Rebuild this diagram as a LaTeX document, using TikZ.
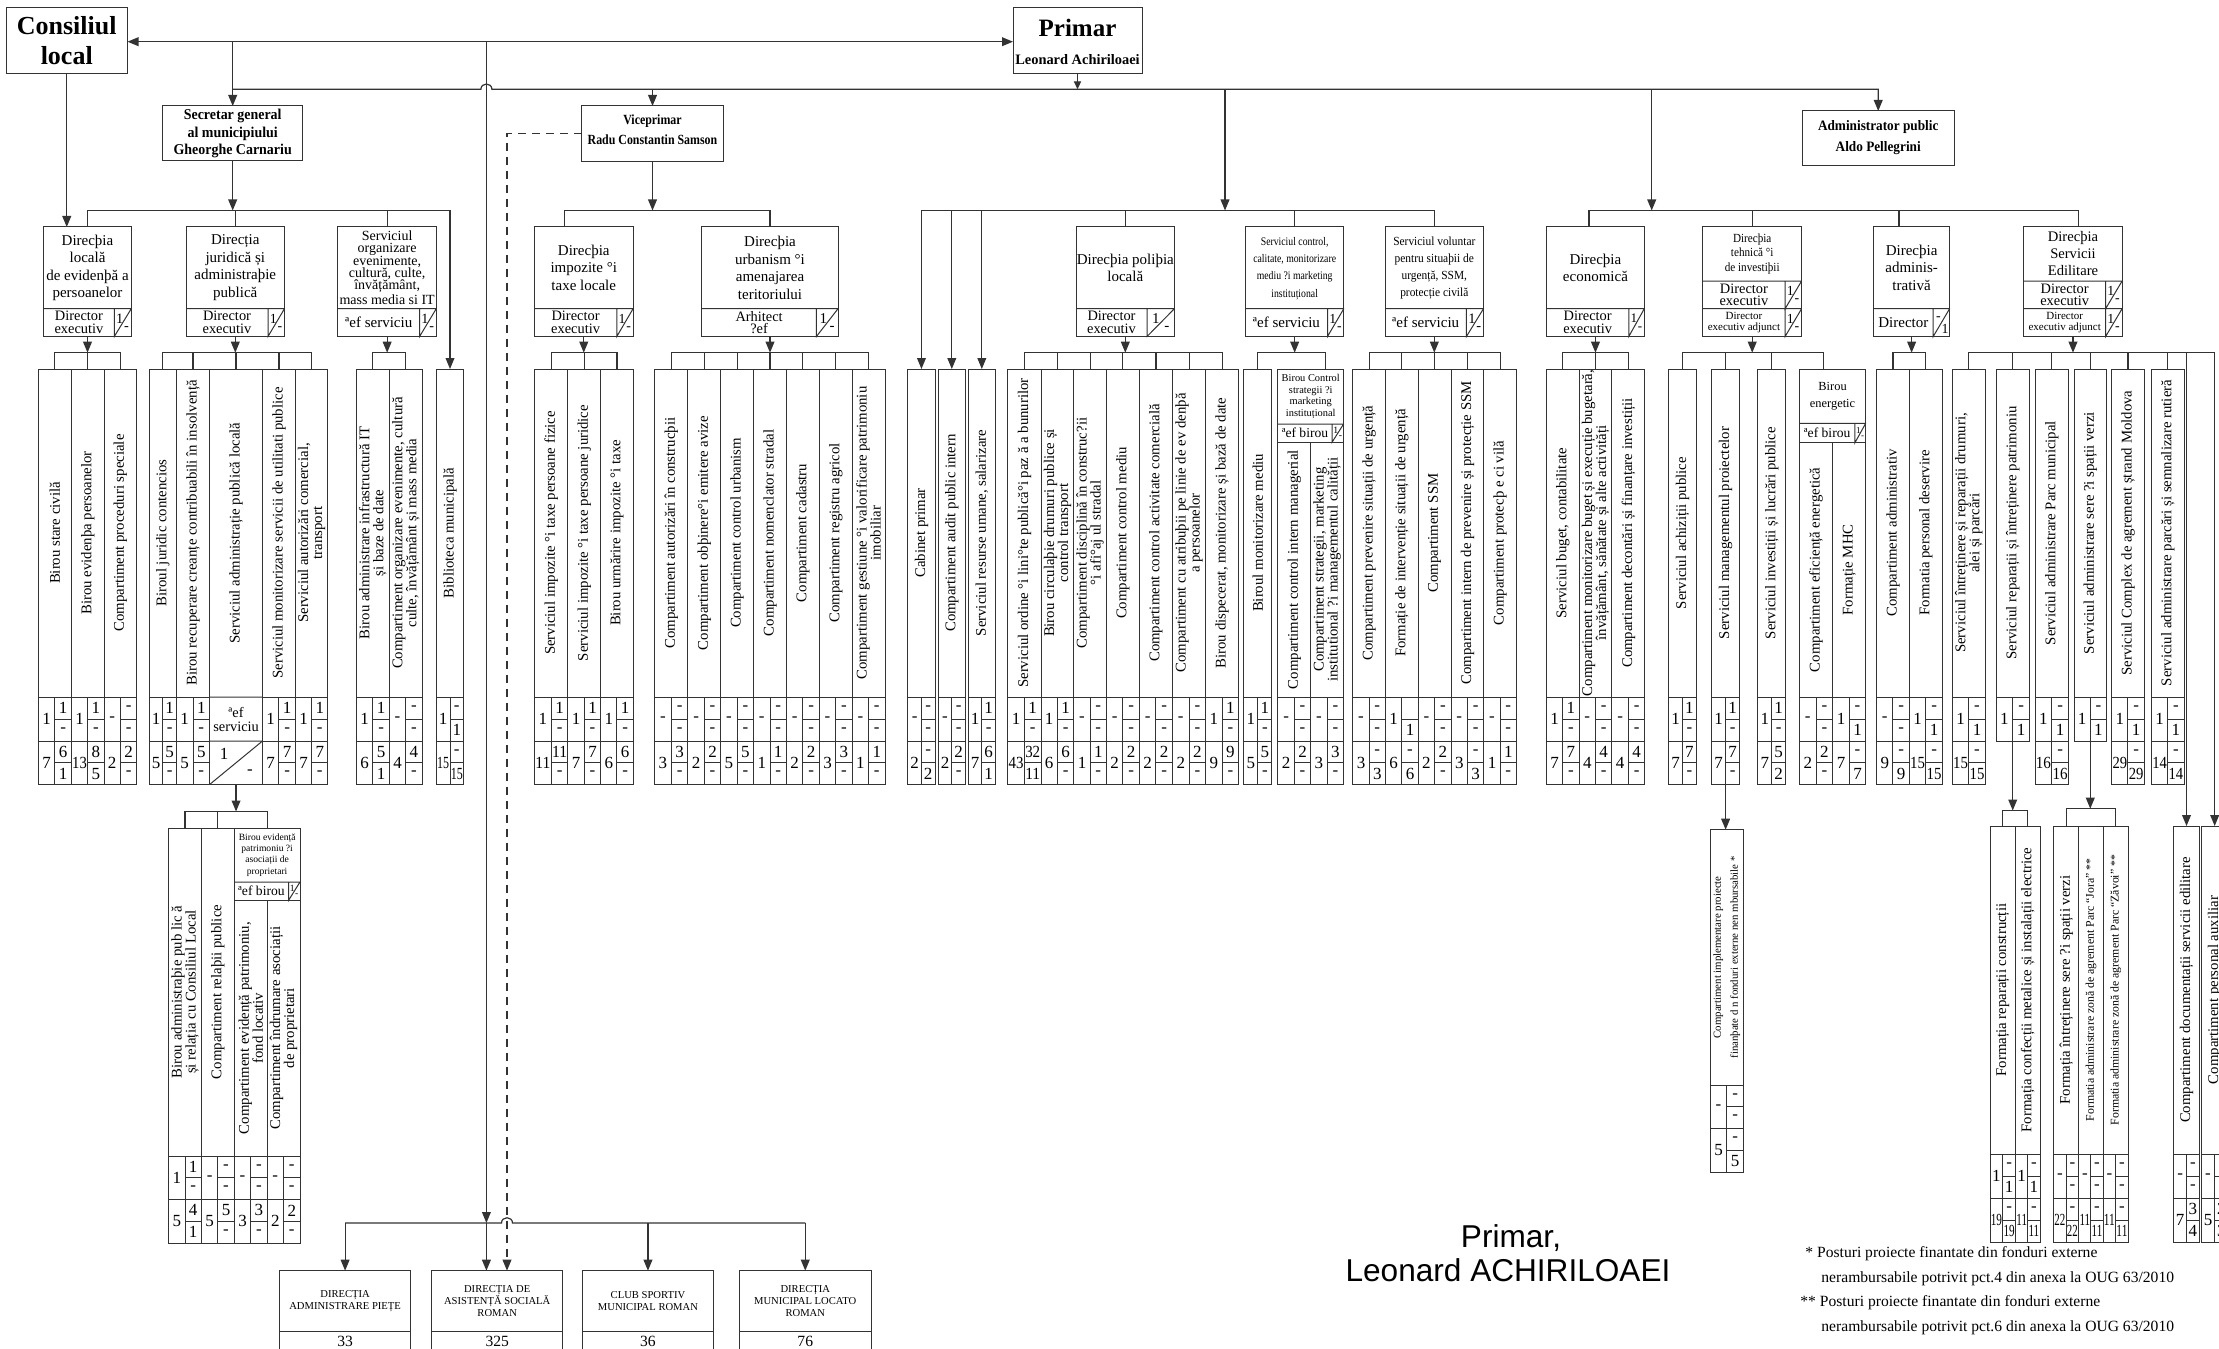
\documentclass[tikz,border=0pt]{standalone}
\usepackage{fontspec}
\setmainfont{Liberation Serif}
\newfontfamily\sigfont{Liberation Sans}
\usepackage{graphicx}
\usetikzlibrary{arrows.meta}

\newsavebox\nbox
\newcommand\fitn[2]{\sbox\nbox{#2}\ifdim\wd\nbox>#1pt\resizebox{#1pt}{\height}{\usebox\nbox}\else\usebox\nbox\fi}
\newcommand\cond[2]{\scalebox{#1}[1]{\begin{tabular}{@{}c@{}}#2\end{tabular}}}
\def\ColNums#1/#2/#3/#4/#5/#6\relax{\def\qna{#1}\def\qnb{#2}\def\qnc{#3}\def\qnd{#4}\def\qne{#5}\def\qnf{#6}}

\tikzset{
 ln/.style={draw=black!80, line width=0.6pt},
 arr/.style={ln, -{Triangle[length=5.5pt,width=4.4pt]}},
 sarr/.style={ln, -{Triangle[length=4pt,width=3.6pt]}},
 darr/.style={ln, {Triangle[length=5.5pt,width=4.4pt]}-{Triangle[length=5.5pt,width=4.4pt]}},
 frame/.style={draw=black!80, line width=0.5pt, inner sep=0pt, outer sep=0pt},
 ctext/.style={rotate=90, align=center, inner sep=0pt, font=\fontsize{7.4}{7}\selectfont},
 num/.style={inner sep=0pt, font=\fontsize{8.5}{8.5}\selectfont},
 htext/.style={align=center, inner sep=0pt, font=\fontsize{7.5}{8.75}\selectfont},
 rtext/.style={align=center, inner sep=0pt, font=\fontsize{7.2}{6.3}\selectfont},
 btext/.style={align=center, inner sep=0pt, font=\bfseries\fontsize{7.5}{8.8}\selectfont},
 fnote/.style={anchor=west, inner sep=0pt, font=\fontsize{7.8}{7.8}\selectfont},
}

% column with rotated text and two rows of numbers
\newcommand\Col[6][]{%
 \ColNums#6\relax
 \pgfmathsetmacro\qxa{#3}\pgfmathsetmacro\qxb{#4}%
 \pgfmathsetmacro\qxm{(\qxa+\qxb)/2}%
 \pgfmathsetmacro\qxl{(\qxa+\qxm)/2}\pgfmathsetmacro\qxr{(\qxm+\qxb)/2}%
 \ifx\qnd\empty\let\qbot\qCd\else\let\qbot\qCe\fi
 \pgfmathsetmacro\qyt{(\qCt+\qCb)/2}%
 \pgfmathsetmacro\qyr{(\qCb+\qCd)/2}\pgfmathsetmacro\qys{(\qCd+\qCe)/2}%
 \pgfmathsetmacro\qyra{(\qCb+\qyr)/2}\pgfmathsetmacro\qyrb{(\qyr+\qCd)/2}%
 \pgfmathsetmacro\qysa{(\qCd+\qys)/2}\pgfmathsetmacro\qysb{(\qys+\qCe)/2}%
 \pgfmathsetmacro\qcw{(\qxb-\qxa)/2}\pgfmathsetmacro\qch{(\qbot-\qCt)/2}%
 \pgfmathsetmacro\qfw{(\qxb-\qxa)/4-0.8}%
 \node[frame, minimum width=\qcw pt, minimum height=\qch pt, anchor=north west] (#2) at (\qxa,\qCt) {};
 \draw[frame] (\qxa,\qCb) -- (\qxb,\qCb) (\qxm,\qCb) -- (\qxm,\qbot) (\qxm,\qyr) -- (\qxb,\qyr);
 \node[ctext,#1] at (\qxm,\qyt) {#5};
 \node[num] at (\qxl,\qyr) {\fitn{\qfw}{\qna}};
 \node[num] at (\qxr,\qyra) {\fitn{\qfw}{\qnb}};
 \node[num] at (\qxr,\qyrb) {\fitn{\qfw}{\qnc}};
 \ifx\qnd\empty\else
 \draw[frame] (\qxa,\qCd) -- (\qxb,\qCd) (\qxm,\qys) -- (\qxb,\qys);
 \node[num] at (\qxl,\qys) {\fitn{\qfw}{\qnd}};
 \node[num] at (\qxr,\qysa) {\fitn{\qfw}{\qne}};
 \node[num] at (\qxr,\qysb) {\fitn{\qfw}{\qnf}};
 \fi}

% header box: [style]{name}{x1}{x2}{top}{bottom}{title bottom}{title}
\newcommand\HeadBox[8][]{%
 \pgfmathsetmacro\qw{(#4-#3)/2}\pgfmathsetmacro\qh{(#6-#5)/2}%
 \pgfmathsetmacro\qcx{(#3+#4)/2}\pgfmathsetmacro\qcy{(#5+#7)/2}%
 \node[frame, minimum width=\qw pt, minimum height=\qh pt, anchor=north west] (#2) at (#3,#5) {};
 \node[htext,#1] at (\qcx,\qcy) {#8};}

% role row: [style]{x1}{x2}{subx}{y1}{y2}{role}{num top}{num bottom}
\newcommand\RoleRow[9][]{%
 \pgfmathsetmacro\qrx{(#2+#4)/2}\pgfmathsetmacro\qry{(#5+#6)/2}%
 \pgfmathsetmacro\qdw{#3-#4}\pgfmathsetmacro\qdh{#6-#5}%
 \pgfmathsetmacro\qfs{min(7.5,\qdw*0.42)}%
 \pgfmathsetmacro\qtx{#4+0.32*\qdw}\pgfmathsetmacro\qty{#5+0.36*\qdh}%
 \pgfmathsetmacro\qbx{#4+0.72*\qdw}\pgfmathsetmacro\qby{#5+0.72*\qdh}%
 \draw[frame] (#2,#5) -- (#3,#5) (#4,#5) -- (#4,#6) -- (#3,#5);
 \node[rtext,#1] at (\qrx,\qry) {#7};
 \node[inner sep=0pt, font=\fontsize{\qfs}{\qfs}\selectfont] at (\qtx,\qty) {#8};
 \node[inner sep=0pt, font=\fontsize{\qfs}{\qfs}\selectfont] at (\qbx,\qby) {#9};}

\newcommand\BotBox[5]{%
 \pgfmathsetmacro\qw{(#3-#2)/2}\pgfmathsetmacro\qcx{(#2+#3)/2}%
 \node[frame, minimum width=\qw pt, minimum height=41pt, anchor=north west] (#1) at (#2,1270.7) {};
 \draw[frame] (#2,1331) -- (#3,1331);
 \node[align=center, inner sep=0pt, font=\fontsize{5.3}{6.1}\selectfont] at (\qcx,1301) {#4};
 \node[inner sep=0pt, font=\fontsize{7.8}{7.8}\selectfont] at (\qcx,1341) {#5};}

\newcommand\GBar[3]{%
 \draw[arr] (#1.south) -- (#1.south |- Y4);
 \draw[ln] (#2.north) -- (#2.north |- Y4) -| (#3.north);}
\newcommand\Drops[1]{\foreach \qc in {#1}{\draw[ln] (\qc.north) -- (\qc.north |- Y4);}}

\begin{document}
\begin{tikzpicture}[x=0.5pt,y=-0.5pt]
\useasboundingbox (0,0) rectangle (2219,1348);
\fill[white] (0,0) rectangle (2219,1348);

\coordinate (Y1) at (0,41.7);
\coordinate (Y2) at (0,89.3);
\coordinate (Y3) at (0,210.5);
\coordinate (Y4) at (0,352.7);
\coordinate (Y5) at (0,1223);

% ---------- top level ----------
\node[frame, minimum width=60.75pt, minimum height=33pt, anchor=north west] (cons) at (6,8) {};
\node[align=center, inner sep=0pt, font=\bfseries\fontsize{13}{15}\selectfont] (consT) at (66.75,41) {Consiliul\\local};
\node[frame, minimum width=64.5pt, minimum height=33pt, anchor=north west] (primar) at (1013,7.3) {};
\node[inner sep=0pt, font=\bfseries\fontsize{12.5}{13}\selectfont] (primT) at (1077.5,28) {Primar};
\node[inner sep=0pt, font=\bfseries\fontsize{7.2}{8}\selectfont] (primN) at (1077.5,60) {Leonard Achiriloaei};

\node[frame, minimum width=70.2pt, minimum height=27.5pt, anchor=north west] (secr) at (162.5,106) {};
\node[btext] (secrT) at (232.7,133.5) {\cond{0.93}{Secretar general\\al municipiului\\Gheorghe Carnariu}};
\node[frame, minimum width=70.7pt, minimum height=27.65pt, anchor=north west] (vice) at (581.8,106) {};
\node[btext, font=\bfseries\fontsize{7}{10}\selectfont] (viceT) at (652.5,131) {\cond{0.85}{Viceprimar\\Radu Constantin Samson}};
\node[frame, minimum width=75.8pt, minimum height=27.35pt, anchor=north west] (admin) at (1802.4,111) {};
\node[btext, font=\bfseries\fontsize{7.2}{10.5}\selectfont] (adminT) at (1878.2,136.5) {\cond{0.92}{Administrator public\\Aldo Pellegrini}};

% ---------- header boxes ----------
\HeadBox{dloc}{43.6}{131.4}{227}{336.5}{308.5}{Direcþia\\locală\\de evidenþă a\\persoanelor}
\RoleRow{43.6}{131.4}{114.3}{308.5}{336.5}{Director\\executiv}{1}{-}
\HeadBox{djur}{186}{284.6}{227}{336.5}{308.5}{Direcția\\juridică și\\administraþie\\publică}
\RoleRow{186}{284.6}{268}{308.5}{336.5}{Director\\executiv}{1}{-}
\HeadBox[font=\fontsize{7}{6.2}\selectfont]{dorg}{337.9}{436.4}{227}{336.5}{308.5}{Serviciul\\organizare\\evenimente,\\cultură, culte,\\învățământ,\\mass media si IT}
\RoleRow[font=\fontsize{7.5}{7.5}\selectfont]{337.9}{436.4}{419.6}{308.5}{336.5}{ªef serviciu}{1}{-}
\HeadBox{dimp}{534.3}{633.2}{227}{336.5}{308.5}{Direcþia\\impozite °i\\taxe locale}
\RoleRow{534.3}{633.2}{616.8}{308.5}{336.5}{Director\\executiv}{1}{-}
\HeadBox{durb}{701.8}{838.2}{227}{336.5}{308.5}{Direcþia\\urbanism °i\\amenajarea\\teritoriului}
\RoleRow{701.8}{838.2}{816.4}{308.5}{336.5}{Arhitect\\?ef}{1}{-}
\HeadBox{pol}{1076}{1174.6}{227}{336.5}{308.5}{Direcþia poliþia\\locală}
\RoleRow{1076}{1174.6}{1147}{308.5}{336.5}{Director\\executiv}{1}{-}
\HeadBox[font=\fontsize{5.8}{8.7}\selectfont]{ctrl}{1245.4}{1343.9}{227}{336.5}{308.5}{\cond{0.84}{Serviciul control,\\calitate, monitorizare\\mediu ?i marketing\\instituțional}}
\RoleRow[font=\fontsize{7.5}{7.5}\selectfont]{1245.4}{1343.9}{1327.5}{308.5}{336.5}{ªef serviciu}{1}{-}
\HeadBox[font=\fontsize{6.2}{8.6}\selectfont]{volu}{1385}{1483.6}{227}{336.5}{308.5}{\cond{0.92}{Serviciul voluntar\\pentru situaþii de\\urgență, SSM,\\protecție civilă}}
\RoleRow[font=\fontsize{7.5}{7.5}\selectfont]{1385}{1483.6}{1466.4}{308.5}{336.5}{ªef serviciu}{1}{-}
\HeadBox{econ}{1546.5}{1644.4}{227}{336.5}{308.5}{Direcþia\\economică}
\RoleRow{1546.5}{1644.4}{1628.8}{308.5}{336.5}{Director\\executiv}{1}{-}
\HeadBox[font=\fontsize{6.2}{7.3}\selectfont]{teh}{1702.8}{1801.6}{227}{336.5}{281}{\cond{0.9}{Direcþia\\tehnică °i\\de investiþii}}
\RoleRow{1702.8}{1801.6}{1785.1}{281}{308.7}{Director\\executiv}{1}{-}
\RoleRow[font=\fontsize{5.5}{5.3}\selectfont]{1702.8}{1801.6}{1785.1}{308.7}{336.5}{Director\\executiv adjunct}{1}{-}
\HeadBox{adm}{1873.5}{1949.7}{227}{336.5}{308.5}{Direcþia\\adminis-\\trativă}
\RoleRow[font=\fontsize{7.5}{7.5}\selectfont]{1873.5}{1949.7}{1933.2}{308.5}{336.5}{Director}{-}{1}
\HeadBox[font=\fontsize{7.3}{8.5}\selectfont]{edil}{2023.8}{2122.1}{227}{336.5}{281}{Direcþia\\Servicii\\Edilitare}
\RoleRow{2023.8}{2122.1}{2105.6}{281}{308.7}{Director\\executiv}{1}{-}
\RoleRow[font=\fontsize{5.5}{5.3}\selectfont]{2023.8}{2122.1}{2105.6}{308.7}{336.5}{Director\\executiv adjunct}{1}{-}

% ---------- columns, level 1 ----------
\def\qCt{369}\def\qCb{697}\def\qCd{741}\def\qCe{784.5}
\Col{l1}{38.2}{71.4}{Birou stare civilă}{1/1/-/7/6/1}
\Col{l2}{71.4}{104}{Birou evidenþa persoanelor}{1/1/-/13/8/5}
\Col{l3}{104}{136.8}{Compartiment proceduri speciale}{-/-/-/2/2/-}
\Col{j1}{149.3}{176.4}{Biroul juridic contencios}{1/1/-/5/5/-}
\Col{j2}{176.4}{209.6}{Birou recuperare creanțe contribuabili în insolvență}{1/1/-/5/5/-}
\node[frame, minimum width=26.45pt, minimum height=207.75pt, anchor=north west] (j3) at (209.6,369) {};
\draw[frame] (209.6,697) -- (262.5,697) (209.6,741) -- (262.5,741) (209.6,784.5) -- (262.5,741);
\node[ctext] at (236.05,533) {Serviciul administrație publică locală};
\node[rtext, font=\fontsize{7.2}{7}\selectfont] at (236.05,719) {ªef\\serviciu};
\node[num] at (224,754) {1};
\node[num] at (250,772) {-};
\Col{j4}{262.5}{295.4}{Serviciul monitorizare servicii de utilitati publice}{1/1/-/7/7/-}
\Col{j5}{295.4}{327.9}{Serviciul autorizări comercial,\\transport}{1/1/-/7/7/-}
\Col{o1}{356.4}{389.3}{Birou administrare infrastructură IT\\și baze de date}{1/1/-/6/5/1}
\Col{o2}{389.3}{422.1}{Compartiment organizare evenimente, cultură\\culte, învățământ și mass media}{-/-/-/4/4/-}
\Col{bibl}{436.4}{463.6}{Biblioteca municipală}{1/-/1/15/-/15}
\Col{i1}{534.6}{567.9}{Serviciul impozite °i taxe persoane fizice}{1/1/-/11/11/-}
\Col{i2}{567.9}{600.7}{Serviciul impozite °i taxe persoane juridice}{1/1/-/7/7/-}
\Col{i3}{600.7}{633.2}{Birou urmărire impozite °i taxe}{1/1/-/6/6/-}
\Col{u1}{654.6}{687.9}{Compartiment autorizări în construcþii}{-/-/-/3/3/-}
\Col{u2}{687.9}{720.7}{Compartiment obþinere°i emitere avize}{-/-/-/2/2/-}
\Col{u3}{720.7}{753.6}{Compartiment control urbanism}{-/-/-/5/5/-}
\Col{u4}{753.6}{786.4}{Compartiment nomenclator stradal}{-/-/-/1/1/-}
\Col{u5}{786.4}{819.3}{Compartiment cadastru}{-/-/-/2/2/-}
\Col{u6}{819.3}{852.1}{Compartiment registru agricol}{-/-/-/3/3/-}
\Col{u7}{852.1}{885}{Compartiment gestiune °i valorificare patrimoniu\\imobiliar}{-/-/-/1/1/-}
\Col{cab}{907.9}{935}{Cabinet primar}{-/-/-/2/-/2}
\Col{aud}{938.2}{965.4}{Compartiment audit public intern}{-/-/-/2/2/-}
\Col{ru}{968.2}{995.4}{Serviciul resurse umane, salarizare}{1/1/-/7/6/1}
\Col{p1}{1007.9}{1041}{Serviciul ordine °i lini°te publică°i paz ă a bunurilor}{1/1/-/43/32/11}
\Col{p2}{1041}{1073.9}{Birou circulaþie drumuri publice și\\control transport}{1/1/-/6/6/-}
\Col{p3}{1073.9}{1106.4}{Compartiment disciplină în construc?ii\\°i afi°aj ul stradal}{-/-/-/1/1/-}
\Col{p4}{1106.4}{1139.3}{Compartiment control mediu}{-/-/-/2/2/-}
\Col{p5}{1139.3}{1172.5}{Compartiment control activitate comercială}{-/-/-/2/2/-}
\Col{p6}{1172.5}{1205.7}{Compartiment cu atribuþii pe linie de ev denþă\\a persoanelor}{-/-/-/2/2/-}
\Col{p7}{1205.7}{1238.6}{Birou dispecerat, monitorizare și bază de date}{1/1/-/9/9/-}
\Col{bmon}{1243.9}{1271.8}{Biroul  monitorizare mediu}{1/1/-/5/5/-}
\HeadBox[font=\fontsize{5.2}{5.75}\selectfont]{bc}{1277.9}{1343.6}{369}{442.3}{424}{Birou Control\\strategii ?i\\marketing\\instituțional}
\RoleRow[font=\fontsize{6.8}{6.8}\selectfont]{1277.9}{1343.6}{1332}{424}{442.3}{ªef birou}{1}{-}
\Col{v1}{1352.9}{1385.4}{Compartiment prevenire situații de urgență}{-/-/-/3/-/3}
\Col{v2}{1385.4}{1418.2}{Formație de intervenție situații de urgență}{1//1/6/-/6}
\Col{v3}{1418.2}{1451.1}{Compartiment SSM}{-/-/-/2/2/-}
\Col{v4}{1451.1}{1483.9}{Compartiment intern de prevenire și protecție SSM}{-/-/-/3/-/3}
\Col{v5}{1483.9}{1516.4}{Compartiment protecþ e ci vilă}{-/-/-/1/1/-}
\Col{e1}{1546.5}{1579}{Serviciul buget, contabilitate}{1/1/-/7/7/-}
\Col{e2}{1579}{1611.9}{Compartiment monitorizare buget și execuție bugetară,\\învățământ, sănătate și alte activități}{-/-/-/4/4/-}
\Col{e3}{1611.9}{1644.8}{Compartiment decontări și finanțare investiții}{-/-/-/4/4/-}
\Col{t1}{1668.6}{1696.3}{Serviciul achiziții publice}{1/1/-/7/7/-}
\Col{t2}{1711.5}{1739.7}{Serviciul managementul proiectelor}{1/1/-/7/7/-}
\Col{t3}{1757.8}{1785.6}{Serviciul investiții și lucrări publice}{1/1/-/7/5/2}
\HeadBox[font=\fontsize{6.2}{8.5}\selectfont]{be}{1799.4}{1865.7}{369}{442.7}{423.3}{Birou\\energetic}
\RoleRow[font=\fontsize{6.8}{6.8}\selectfont]{1799.4}{1865.7}{1854.9}{423.3}{442.7}{ªef birou}{1}{-}
\Col{a1}{1876.5}{1909.4}{Compartiment administrativ}{-/-/-/9/-/9}
\Col{a2}{1909.4}{1942.3}{Formatia personal deservire}{1/-/1/15/-/15}
\Col{d1}{1952.3}{1985.2}{Serviciul întreținere și reparații drumuri,\\alei și parcări}{1/-/1/15/-/15}
\Col{d2}{1996}{2029.4}{Serviciul reparații și întreținere patrimoniu}{1/-/1///}
\Col{d3}{2035}{2068.4}{Serviciul administrare Parc municipal}{1/-/1/16/-/16}
\Col{d4}{2074}{2106.5}{Serviciul administrare sere ?i spații verzi}{1/-/1///}
\Col{d5}{2111.7}{2144.2}{Serviciul Complex de agrement ștrand Moldova}{1/-/1/29/-/29}
\Col{d6}{2151.5}{2184}{Serviciul administrare parcări și semnalizare rutieră}{1/-/1/14/-/14}
\def\qCt{442.3}
\Col{bc1}{1277.9}{1310.7}{Compartiment control intern managerial}{-/-/-/2/2/-}
\Col{bc2}{1310.7}{1343.6}{Compartiment strategii, marketing\\institutional ?i managementul calității}{-/-/-/3/3/-}
\def\qCt{442.7}
\Col{be1}{1799.4}{1832.8}{Compartiment eficiență energetică}{-/-/-/2/2/-}
\Col{be2}{1832.8}{1865.7}{Formație MHC}{1/-/1/7/-/7}

% ---------- columns, level 2 ----------
\def\qCt{828}\def\qCb{1156}\def\qCd{1199.5}\def\qCe{1243}
\Col{s1}{168.6}{201.4}{Birou administraþie  pub lic ă\\și relația cu Consiliul Local}{1/1/-/5/4/1}
\Col{s2}{201.4}{234.3}{Compartiment relaþii publice}{-/-/-/5/5/-}
\HeadBox[font=\fontsize{4.8}{5.65}\selectfont]{sh}{234.3}{300}{828}{900.3}{882}{Birou evidență\\patrimoniu ?i\\asociații de\\proprietari}
\RoleRow[font=\fontsize{6.8}{6.8}\selectfont]{234.3}{300}{288.6}{882}{900.3}{ªef birou}{1}{-}
\def\qCt{900.3}
\Col{s3}{234.3}{267.1}{Compartiment evidență patrimoniu,\\fond locativ}{-/-/-/3/3/-}
\Col{s4}{267.1}{300}{Compartiment îndrumare asociații\\de proprietari}{-/-/-/2/2/-}

\def\qCt{829.7}\def\qCb{1085}\def\qCd{1128.5}\def\qCe{1172.2}
\Col[font=\fontsize{5.4}{8.5}\selectfont]{impl}{1710.2}{1743.4}{Compartiment implementare proiecte\\finanþate d n fonduri externe nen mbursabile *}{-/-/-/5/-/5}

\def\qCt{826}\def\qCb{1154}\def\qCd{1198}\def\qCe{1242}
\Col{r1}{1990}{2015.6}{Formația reparații construcții}{1/-/1/19/-/19}
\Col{r2}{2015.6}{2040}{Formația confecții metalice și instalații electrice}{1/-/1/11/-/11}
\Col{g1}{2053.6}{2078.7}{Formația întreținere sere ?i spații verzi}{-/-/-/22/-/22}
\Col[font=\fontsize{5.9}{6.2}\selectfont]{g2}{2078.7}{2103.1}{Formatia administrare zonă de agrement Parc ``Jora'' **}{-/-/-/11/-/11}
\Col[font=\fontsize{5.9}{6.2}\selectfont]{g3}{2103.1}{2128.2}{Formatia administrare zonă de agrement Parc ``Zăvoi'' **}{-/-/-/11/-/11}
\Col{docs}{2173.6}{2199.4}{Compartiment documentații servicii edilitare}{-/-/-/7/3/4}
\Col{paux}{2201.3}{2228}{Compartiment personal auxiliar}{-/-/-/5/2/3}

% ---------- bottom boxes ----------
\BotBox{pie}{279.3}{410.9}{DIRECȚIA\\ADMINISTRARE PIEȚE}{33}
\BotBox{das}{431.6}{562.8}{DIRECȚIA DE\\ASISTENȚĂ SOCIALĂ\\ROMAN}{325}
\BotBox{club}{582.3}{713.6}{CLUB SPORTIV\\MUNICIPAL ROMAN}{36}
\BotBox{loc}{739.2}{871.3}{DIRECȚIA\\MUNICIPAL LOCATO\\ROMAN}{76}

% ---------- connectors ----------
\coordinate (jS) at (232.7,41.7);
\coordinate (jD) at (486.4,41.7);
\coordinate (jB) at (486.4,1223);
\coordinate (jP) at (1225,89.3);
\coordinate (jE) at (1651.7,89.3);
\coordinate (xD) at (507,0);
\coordinate (xbc) at (1325.4,0);
\coordinate (xbe) at (1823.7,0);
\coordinate (xe1) at (1588.9,0);
\coordinate (xe3) at (1899,0);
\coordinate (xe4) at (2078.3,0);
\coordinate (xv) at (564.6,0);
\coordinate (Ys) at (0,811.5);
\coordinate (Yr) at (0,810.5);
\coordinate (Yg) at (0,808.7);

\draw[darr] (cons.east |- Y1) -- (primar.west |- Y1);
\draw[arr] (jS) -- (secr.north);
\draw[sarr] (primar.south) -- (primar.south |- Y2);
\draw[arr] (secr.north |- Y2) -- (480.9,89.3) .. controls (480.9,82.3) and (491.9,82.3) .. (491.9,89.3) -- (admin.north |- Y2) -- (admin.north);
\draw[arr] (jD) -- (jB);
\draw[arr] (vice.north |- Y2) -- (vice.north);
\draw[arr] (cons.south) -- (cons.south |- dloc.north);

% secretar
\draw[arr] (secr.south) -- (secr.south |- Y3);
\draw[arr] (dloc.north) -- (dloc.north |- Y3) -| (bibl.north);
\draw[ln] (djur.north) -- (djur.north |- Y3);
\draw[ln] (dorg.north) -- (dorg.north |- Y3);
\GBar{dloc}{l1}{l3} \Drops{l2}
\GBar{djur}{j1}{j5} \Drops{j2,j3,j4}
\GBar{dorg}{o1}{o2}
\draw[arr] (j3.south) -- (j3.south |- Ys);
\draw[ln] (s1.north) -- (s1.north |- Ys) -| (sh.north);
\draw[ln] (s2.north) -- (s2.north |- Ys);

% viceprimar
\draw[arr] (vice.south) -- (vice.south |- Y3);
\draw[ln] (dimp.north -| xv) -- (xv |- Y3) -| (durb.north);
\GBar{dimp}{i1}{i3} \Drops{i2}
\GBar{durb}{u1}{u7} \Drops{u2,u3,u4,u5,u6}

% primar direct
\draw[arr] (jP) -- (jP |- Y3);
\draw[ln] (cab.north |- Y3) -- (volu.north |- Y3) -- (volu.north);
\draw[arr] (cab.north |- Y3) -- (cab.north);
\draw[arr] (aud.north |- Y3) -- (aud.north);
\draw[arr] (ru.north |- Y3) -- (ru.north);
\draw[ln] (pol.north) -- (pol.north |- Y3);
\draw[ln] (ctrl.north) -- (ctrl.north |- Y3);
\GBar{pol}{p1}{p7} \Drops{p2,p3,p4,p5,p6}
\draw[arr] (ctrl.south) -- (ctrl.south |- Y4);
\draw[ln] (bmon.north) -- (bmon.north |- Y4) -| (bc.north -| xbc);
\GBar{volu}{v1}{v5} \Drops{v2,v3,v4}

% economic group
\draw[arr] (jE) -- (jE |- Y3);
\draw[ln] (econ.north -| xe1) -- (xe1 |- Y3) -- (xe4 |- Y3) -- (edil.north -| xe4);
\draw[ln] (teh.north) -- (teh.north |- Y3);
\draw[ln] (adm.north -| xe3) -- (xe3 |- Y3);
\GBar{econ}{e1}{e3} \Drops{e2}
\draw[arr] (teh.south) -- (teh.south |- Y4);
\draw[ln] (t1.north) -- (t1.north |- Y4) -| (be.north -| xbe);
\Drops{t2,t3}
\draw[arr] (t2.south) -- (t2.south |- impl.north);
\GBar{adm}{a1}{a2}
\draw[arr] (edil.south) -- (edil.south |- Y4);
\draw[arr] (d1.north) -- (d1.north |- Y4) -| (paux.north);
\Drops{d2,d3,d4,d5,d6}
\draw[arr] (docs.north |- Y4) -- (docs.north);
\draw[arr] (d2.south) -- (d2.south |- Yr);
\draw[ln] (r1.north) -- (r1.north |- Yr) -| (r2.north);
\draw[arr] (d4.south) -- (d4.south |- Yg);
\draw[ln] (g1.north) -- (g1.north |- Yg) -| (g3.north);

% bottom distribution
\draw[ln] (pie.north |- Y5) -- (501.5,1223) .. controls (501.5,1216) and (512.5,1216) .. (512.5,1223) -- (loc.north |- Y5);
\draw[arr] (pie.north |- Y5) -- (pie.north);
\draw[arr] (jB) -- (jB |- das.north);
\draw[arr] (club.north |- Y5) -- (club.north);
\draw[arr] (loc.north |- Y5) -- (loc.north);
\draw[ln, dash pattern=on 4pt off 3pt, -{Triangle[length=5.5pt,width=4.4pt]}] (vice.west) -| (xD |- das.north);

% ---------- footnotes & signature ----------
\node[fnote] (fn1) at (1805,1254) {* Posturi proiecte finantate din fonduri externe};
\node[fnote] (fn2) at (1821,1279) {nerambursabile potrivit pct.4 din anexa la OUG 63/2010};
\node[fnote] (fn3) at (1800,1303) {** Posturi proiecte finantate din fonduri externe};
\node[fnote] (fn4) at (1821,1328) {nerambursabile potrivit pct.6 din anexa la OUG 63/2010};
\node[inner sep=0pt, font=\sigfont\fontsize{15.8}{15.8}\selectfont] (sig1) at (1511,1238) {Primar,};
\node[inner sep=0pt, font=\sigfont\fontsize{15.8}{15.8}\selectfont] (sig2) at (1508,1270) {Leonard ACHIRILOAEI};
\end{tikzpicture}
\end{document}
